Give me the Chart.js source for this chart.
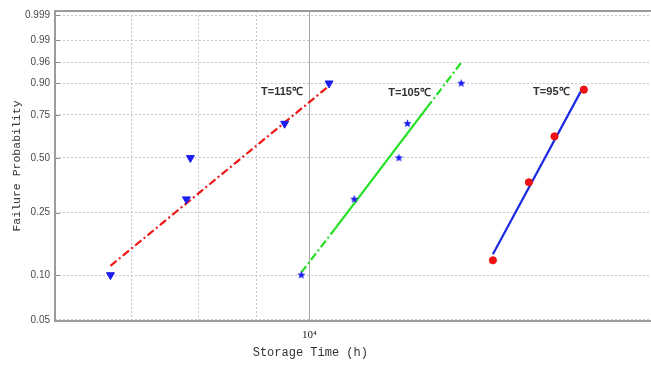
<!DOCTYPE html>
<html>
<head>
<meta charset="utf-8">
<script src="https://cdn.jsdelivr.net/npm/chart.js@4/dist/chart.umd.min.js"></script>
<style>
  html, body { margin: 0; padding: 0; background: #fff; overflow: hidden; }
  #wrap { width: 660px; height: 365px; }
</style>
</head>
<body>
<div id="wrap"><canvas id="c" width="660" height="365"></canvas></div>
<script>
// ---- data (storage time in hours, cumulative failure probability) ----
const times115 = [6707, 7813, 7875, 9517, 10404];
const prob115  = [0.10, 0.30, 0.50, 0.70, 0.90];
const fitTimes115 = [6707, 10404];
const fitProb115  = [0.115, 0.89];

const times105 = [9840, 10944, 11972, 12180, 13568];
const prob105  = [0.10, 0.30, 0.50, 0.70, 0.90];
const fitTimes105 = [9840, 10536, 12664, 13568];
const fitProb105  = [0.104, 0.20, 0.789, 0.9595];

const times95 = [14459, 15543, 16363, 17357];
const prob95  = [0.125, 0.374, 0.625, 0.875];
const fitTimes95 = [14459, 17290];
const fitProb95  = [0.137, 0.876];

const labelTexts = ['T=115\u2103', 'T=105\u2103', 'T=95\u2103'];
const labelTimes = [9077, 11719, 15676];
const labelProbs = [0.866, 0.862, 0.866];

const xTitle = 'Storage Time (h)';
const yTitle = 'Failure Probability';
const yTickLabels = ['0.05', '0.10', '0.25', '0.50', '0.75', '0.90', '0.96', '0.99', '0.999'];
const xTickValues = [7000, 8000, 9000, 10000];
const xMin = 6000, xMax = 20000;

// Weibull probability transform
const wb = p => Math.log(-Math.log(1 - p));
const pts = (xs, ps) => xs.map((x, i) => ({ x: x, y: wb(ps[i]) }));

// filled pentagram marker
function makeStar(color) {
  const c = document.createElement('canvas');
  c.width = 9; c.height = 9;
  const g = c.getContext('2d');
  g.fillStyle = color;
  g.beginPath();
  for (let i = 0; i < 10; i++) {
    const r = i % 2 === 0 ? 4.3 : 1.9;
    const a = -Math.PI / 2 + i * Math.PI / 5;
    const px = 4.5 + r * Math.cos(a), py = 4.5 + r * Math.sin(a);
    if (i === 0) g.moveTo(px, py); else g.lineTo(px, py);
  }
  g.closePath();
  g.fill();
  return c;
}
const starImg = makeStar('#1c1cf0');

const dashDot = [8, 3, 2, 3];

const extras = {
  id: 'extras',
  beforeDatasetsDraw(chart) {
    const { ctx, chartArea: a, scales } = chart;
    ctx.save();
    // solid major gridline at 10^4
    const x4 = Math.round(scales.x.getPixelForValue(10000)) + 0.5;
    ctx.strokeStyle = '#a8a8a8';
    ctx.lineWidth = 1;
    ctx.beginPath(); ctx.moveTo(x4, a.top); ctx.lineTo(x4, a.bottom); ctx.stroke();
    // tick stubs on left axis
    ctx.strokeStyle = '#8a8a8a';
    scales.y.ticks.forEach(t => {
      const y = Math.round(scales.y.getPixelForValue(t.value)) + 0.5;
      ctx.beginPath(); ctx.moveTo(a.left, y); ctx.lineTo(a.left + 5, y); ctx.stroke();
    });
    // frame
    ctx.strokeStyle = '#9c9c9c';
    ctx.lineWidth = 2;
    ctx.beginPath();
    ctx.moveTo(a.right + 2, a.top); ctx.lineTo(a.left, a.top);
    ctx.lineTo(a.left, a.bottom); ctx.lineTo(a.right + 2, a.bottom);
    ctx.stroke();
    ctx.restore();
  },
  afterDatasetsDraw(chart) {
    const { ctx, scales } = chart;
    ctx.save();
    ctx.fillStyle = '#303030';
    ctx.font = 'bold 11px "Liberation Sans", Arial, sans-serif';
    ctx.textAlign = 'left';
    ctx.textBaseline = 'middle';
    labelTexts.forEach((t, i) => {
      ctx.fillText(t, scales.x.getPixelForValue(labelTimes[i]), scales.y.getPixelForValue(wb(labelProbs[i])));
    });
    // x-axis title (centred under the visible part of the axes, as in the original)
    ctx.fillStyle = '#333';
    ctx.font = '12px "Liberation Mono", "DejaVu Sans Mono", monospace';
    ctx.textAlign = 'center';
    ctx.fillText(xTitle, scales.x.getPixelForValue(10000) + 1, 353);
    ctx.restore();
  }
};

new Chart(document.getElementById('c'), {
  type: 'scatter',
  data: {
    datasets: [
      { label: '115 data', data: pts(times115, prob115), pointStyle: 'triangle', rotation: 180,
        pointRadius: 4.6, backgroundColor: '#1c1cf0', borderColor: '#1c1cf0', borderWidth: 1 },
      { label: '105 data', data: pts(times105, prob105), pointStyle: starImg,
        pointRadius: 4, backgroundColor: '#1c1cf0', borderColor: '#1c1cf0' },
      { label: '95 data', data: pts(times95, prob95), pointStyle: 'circle',
        pointRadius: 3.6, backgroundColor: '#ee1111', borderColor: '#ee1111', borderWidth: 1 },
      { label: '115 fit', data: pts(fitTimes115, fitProb115), showLine: true, pointRadius: 0,
        borderColor: '#ee1515', borderWidth: 2.2, borderDash: dashDot },
      { label: '105 fit', data: pts(fitTimes105, fitProb105), showLine: true, pointRadius: 0,
        borderColor: '#22e022', borderWidth: 2.2, borderDash: dashDot,
        segment: { borderDash: c => c.p0DataIndex === 1 ? [] : dashDot } },
      { label: '95 fit', data: pts(fitTimes95, fitProb95), showLine: true, pointRadius: 0,
        borderColor: '#1a2ae0', borderWidth: 2.2 }
    ]
  },
  options: {
    responsive: false,
    animation: false,
    layout: { padding: { top: 11, left: 0, right: 0, bottom: 0 } },
    plugins: { legend: { display: false }, tooltip: { enabled: false } },
    scales: {
      x: {
        type: 'logarithmic',
        min: xMin, max: xMax,
        afterBuildTicks: s => { s.ticks = xTickValues.map(v => ({ value: v })); },
        afterFit: s => { s.height = 44; },
        ticks: {
          autoSkip: false, maxRotation: 0, padding: 8,
          color: '#222',
          font: { family: '"Liberation Serif", "DejaVu Serif", serif', size: 11 },
          callback: v => v === 10000 ? '10\u2074' : ''
        },
        grid: { color: '#c8c8c8', lineWidth: 1, drawTicks: false },
        border: { display: false, dash: [2, 2] },
        title: { display: false }
      },
      y: {
        type: 'linear',
        min: -2.99, max: 1.997,
        afterBuildTicks: s => { s.ticks = yTickLabels.map(l => ({ value: wb(parseFloat(l)) })); },
        afterFit: s => { s.width = 55; },
        ticks: {
          autoSkip: false, padding: 5, color: '#4a4a4a',
          font: { family: '"Liberation Sans", Arial, sans-serif', size: 10 },
          callback: (v, i) => yTickLabels[i]
        },
        grid: { color: '#c8c8c8', lineWidth: 1, drawTicks: false },
        border: { display: false, dash: [2, 2] },
        title: {
          display: true, text: yTitle, color: '#333',
          font: { family: '"Liberation Mono", "DejaVu Sans Mono", monospace', size: 11.5 },
          padding: { top: 10, bottom: 0 }
        }
      }
    }
  },
  plugins: [extras]
});
</script>
</body>
</html>
